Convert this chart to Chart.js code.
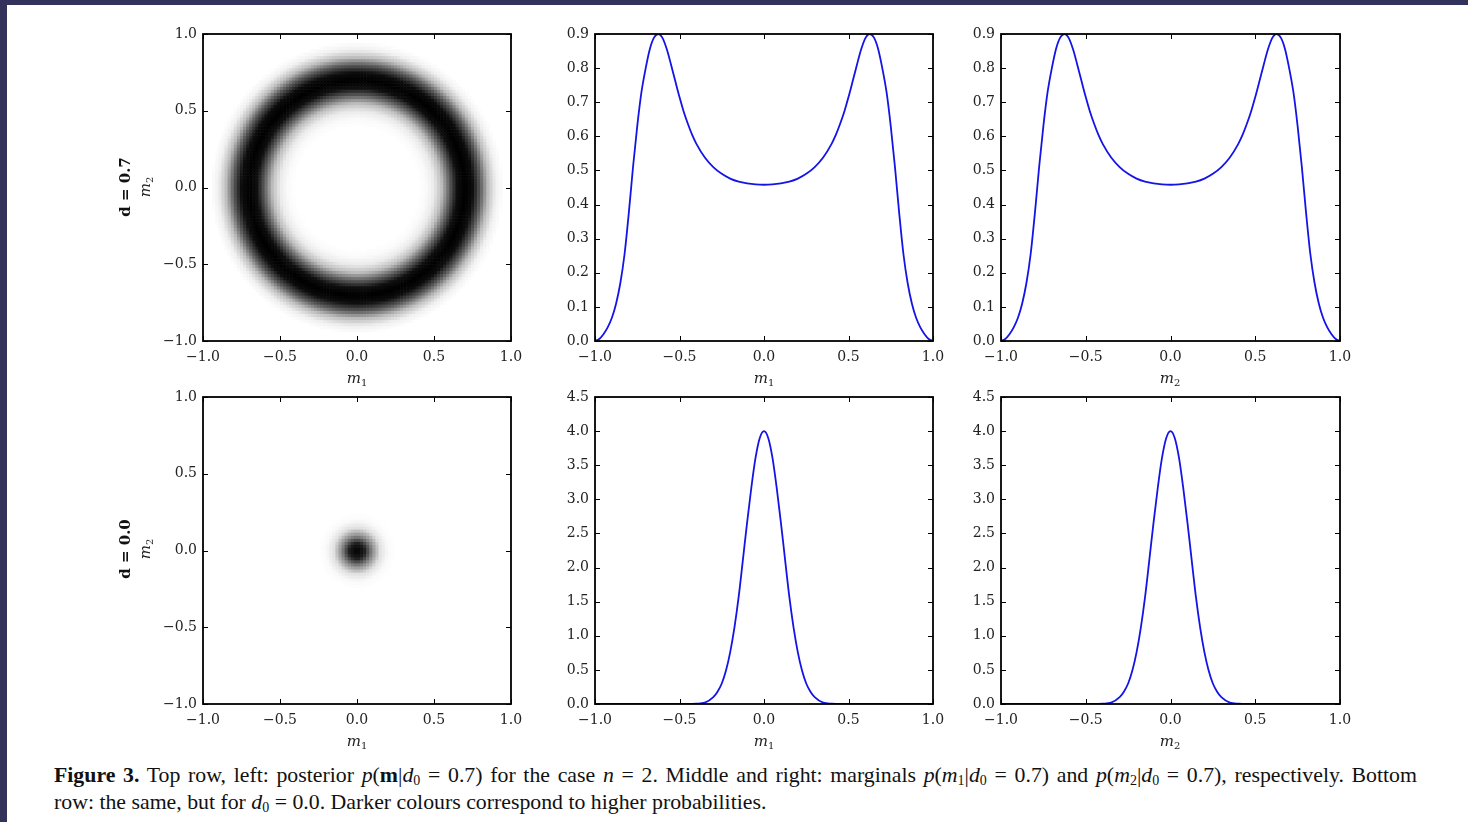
<!DOCTYPE html>
<html lang="en">
<head>
<meta charset="UTF-8">
<title>Posterior and marginals</title>
<script src="https://cdn.jsdelivr.net/npm/chart.js"></script>
<style>
    body { margin: 0; background: #fff; }
    #page {
        position: relative;
        width: 1468px;
        height: 822px;
        background: #fff;
        overflow: hidden;
    }
    .edge-top { position: absolute; left: 0; top: 0; width: 1468px; height: 5px; background: #33325a; }
    .edge-left { position: absolute; left: 0; top: 0; width: 7px; height: 822px; background: #33325a; }
    .panel { position: absolute; }
    .lbl {
        position: absolute;
        font-family: "DejaVu Serif", serif;
        font-size: 15px;
        color: #222;
        transform: translate(-50%, -50%);
        white-space: nowrap;
    }
    .lbl sub { font-size: 10px; font-style: normal; vertical-align: -3px; }
    .rot { transform: translate(-50%, -50%) rotate(-90deg); }
    .dlbl { font-weight: bold; color: #111; }
    .cap {
        position: absolute;
        left: 54px;
        font-family: "Liberation Serif", "Times New Roman", serif;
        font-size: 21.8px;
        line-height: 27px;
        color: #111;
        white-space: nowrap;
    }
    .cap sub { font-size: 14px; vertical-align: -3px; line-height: 0; }
    .justify { width: 1363px; text-align: justify; text-align-last: justify; white-space: normal; }
</style>
</head>
<body>
<div id="page">
    <div class="edge-top"></div>
    <div class="edge-left"></div>

    <div class="panel" id="w1"><canvas id="ringMap"></canvas></div>
    <div class="panel" id="w2"><canvas id="ringM1"></canvas></div>
    <div class="panel" id="w3"><canvas id="ringM2"></canvas></div>
    <div class="panel" id="w4"><canvas id="spotMap"></canvas></div>
    <div class="panel" id="w5"><canvas id="spotM1"></canvas></div>
    <div class="panel" id="w6"><canvas id="spotM2"></canvas></div>

    <!-- axis titles -->
    <div class="lbl" style="left:357px; top:378px"><i>m</i><sub>1</sub></div>
    <div class="lbl" style="left:764px; top:378px"><i>m</i><sub>1</sub></div>
    <div class="lbl" style="left:1170px; top:378px"><i>m</i><sub>2</sub></div>
    <div class="lbl" style="left:357px; top:741px"><i>m</i><sub>1</sub></div>
    <div class="lbl" style="left:764px; top:741px"><i>m</i><sub>1</sub></div>
    <div class="lbl" style="left:1170px; top:741px"><i>m</i><sub>2</sub></div>
    <div class="lbl rot" style="left:145px; top:187px"><i>m</i><sub>2</sub></div>
    <div class="lbl rot" style="left:145px; top:549px"><i>m</i><sub>2</sub></div>
    <div class="lbl rot dlbl" style="left:125px; top:187px">d = 0.7</div>
    <div class="lbl rot dlbl" style="left:125px; top:549px">d = 0.0</div>

    <!-- caption: first line justified, second line left -->
    <div class="cap justify" style="top:762px"><b>Figure 3.</b> Top row, left: posterior <i>p</i>(<b>m</b>|<i>d</i><sub>0</sub> = 0.7) for the case <i>n</i> = 2. Middle and right: marginals <i>p</i>(<i>m</i><sub>1</sub>|<i>d</i><sub>0</sub> = 0.7) and <i>p</i>(<i>m</i><sub>2</sub>|<i>d</i><sub>0</sub> = 0.7), respectively. Bottom</div>
    <div class="cap" style="top:789px">row: the same, but for <i>d</i><sub>0</sub> = 0.0. Darker colours correspond to higher probabilities.</div>
</div>

<script>
// ---- data ----
const mTicks = [-1.0, -0.5, 0.0, 0.5, 1.0];

// top row marginal (same shape for m1 and m2)
const ringM = [-1.000, -0.975, -0.950, -0.925, -0.900, -0.875, -0.850, -0.825, -0.800, -0.775, -0.750, -0.725, -0.700, -0.675, -0.650, -0.625,
    -0.600, -0.575, -0.550, -0.525, -0.500, -0.475, -0.450, -0.425, -0.400, -0.350, -0.300, -0.250, -0.200, -0.150, -0.100, -0.050,
    0.000, 0.050, 0.100, 0.150, 0.200, 0.250, 0.300, 0.350, 0.400, 0.425, 0.450, 0.475, 0.500, 0.525, 0.550, 0.575, 0.600,
    0.625, 0.650, 0.675, 0.700, 0.725, 0.750, 0.775, 0.800, 0.825, 0.850, 0.875, 0.900, 0.925, 0.950, 0.975, 1.000];
const ringMarginal = [0.000, 0.006, 0.020, 0.040, 0.068, 0.110, 0.170, 0.255, 0.375, 0.510, 0.630, 0.730, 0.800, 0.857, 0.890, 0.900,
    0.888, 0.855, 0.810, 0.762, 0.715, 0.672, 0.636, 0.604, 0.578, 0.538, 0.510, 0.490, 0.476, 0.467, 0.462, 0.459,
    0.458, 0.459, 0.462, 0.467, 0.476, 0.490, 0.510, 0.538, 0.578, 0.604, 0.636, 0.672, 0.715, 0.762, 0.810, 0.855, 0.888,
    0.900, 0.890, 0.857, 0.800, 0.730, 0.630, 0.510, 0.375, 0.255, 0.170, 0.110, 0.068, 0.040, 0.020, 0.006, 0.000];

// bottom row marginal (same shape for m1 and m2)
const peakM = [-1.00, -0.45, -0.40, -0.35, -0.30, -0.275, -0.25, -0.225, -0.20, -0.175, -0.15, -0.125, -0.10, -0.075, -0.05, -0.025,
    0.00, 0.025, 0.05, 0.075, 0.10, 0.125, 0.15, 0.175, 0.20, 0.225, 0.25, 0.275, 0.30, 0.35, 0.40, 0.45, 1.00];
const peakMarginal = [0.00, 0.00, 0.005, 0.02, 0.10, 0.18, 0.30, 0.49, 0.76, 1.12, 1.57, 2.11, 2.66, 3.17, 3.61, 3.90,
    4.00, 3.90, 3.61, 3.17, 2.66, 2.11, 1.57, 1.12, 0.76, 0.49, 0.30, 0.18, 0.10, 0.02, 0.005, 0.00, 0.00];

// radial darkness profile of the 2D posteriors (0 = white, 1 = black)
const ringRadius = [0.00, 0.40, 0.45, 0.50, 0.55, 0.60, 0.65, 0.70, 0.75, 0.80, 0.85, 0.90, 0.95];
const ringDark = [0.00, 0.00, 0.02, 0.08, 0.26, 0.62, 0.94, 1.00, 0.95, 0.65, 0.26, 0.06, 0.00];
const spotRadius = [0.00, 0.05, 0.10, 0.15, 0.20, 0.25];
const spotDark = [1.00, 0.88, 0.45, 0.12, 0.02, 0.00];

// ---- layout ----
const PAD_L = 60, PAD_T = 15, PAD_R = 25, PAD_B = 30;
const areas = {
    w1: [203, 34, 308, 307], w2: [595, 34, 338, 307], w3: [1001, 34, 339, 307],
    w4: [203, 397, 308, 307], w5: [595, 397, 338, 307], w6: [1001, 397, 339, 307]
};
Object.entries(areas).forEach(([id, [l, t, w, h]]) => {
    const el = document.getElementById(id);
    el.style.left = (l - PAD_L) + 'px';
    el.style.top = (t - PAD_T) + 'px';
    el.style.width = (w + PAD_L + PAD_R) + 'px';
    el.style.height = (h + PAD_T + PAD_B) + 'px';
});

const tickFont = { family: 'DejaVu Serif', size: 14 };
const fmt = v => v.toFixed(1).replace('-', '\u2212');

// frame with inward ticks on all four sides
const frameTicks = {
    id: 'frameTicks',
    afterDraw(chart) {
        const { ctx, chartArea: a, scales: { x, y } } = chart;
        ctx.save();
        ctx.strokeStyle = '#000';
        ctx.lineWidth = 1;
        ctx.beginPath();
        x.ticks.forEach(t => {
            const px = Math.round(x.getPixelForValue(t.value)) + 0.5;
            ctx.moveTo(px, a.bottom); ctx.lineTo(px, a.bottom - 5);
            ctx.moveTo(px, a.top); ctx.lineTo(px, a.top + 5);
        });
        y.ticks.forEach(t => {
            const py = Math.round(y.getPixelForValue(t.value)) + 0.5;
            ctx.moveTo(a.left, py); ctx.lineTo(a.left + 5, py);
            ctx.moveTo(a.right, py); ctx.lineTo(a.right - 5, py);
        });
        ctx.stroke();
        ctx.lineWidth = 1.8;
        ctx.strokeRect(a.left, a.top, a.right - a.left, a.bottom - a.top);
        ctx.restore();
    }
};

function lookup(rs, ds, r) {
    if (r <= rs[0]) return ds[0];
    for (let i = 1; i < rs.length; i++) {
        if (r <= rs[i]) {
            const f = (r - rs[i - 1]) / (rs[i] - rs[i - 1]);
            return ds[i - 1] + f * (ds[i] - ds[i - 1]);
        }
    }
    return 0;
}

// grey density image drawn cell by cell through the chart's scales
function densityPlugin(rs, ds) {
    return {
        id: 'density',
        beforeDatasetsDraw(chart) {
            const { ctx, chartArea: a, scales: { x, y } } = chart;
            const n = 100, step = 2 / n;
            ctx.save();
            ctx.beginPath();
            ctx.rect(a.left, a.top, a.right - a.left, a.bottom - a.top);
            ctx.clip();
            for (let i = 0; i < n; i++) {
                for (let j = 0; j < n; j++) {
                    const cx = -1 + (i + 0.5) * step;
                    const cy = -1 + (j + 0.5) * step;
                    const d = lookup(rs, ds, Math.hypot(cx, cy));
                    if (d <= 0.003) continue;
                    const g = Math.round(255 * (1 - d));
                    ctx.fillStyle = `rgb(${g},${g},${g})`;
                    const x0 = x.getPixelForValue(cx - step / 2);
                    const x1 = x.getPixelForValue(cx + step / 2);
                    const y0 = y.getPixelForValue(cy - step / 2);
                    const y1 = y.getPixelForValue(cy + step / 2);
                    ctx.fillRect(x0, y1, x1 - x0 + 0.6, y0 - y1 + 0.6);
                }
            }
            ctx.restore();
        }
    };
}

function scalesFor(yMin, yMax, yStep) {
    return {
        x: {
            type: 'linear', min: -1, max: 1,
            afterBuildTicks: s => { s.ticks = mTicks.map(v => ({ value: v })); },
            ticks: { callback: fmt, font: tickFont, color: '#222', padding: 8, maxRotation: 0, autoSkip: false },
            grid: { display: false, drawTicks: false },
            border: { display: false },
            afterFit: s => { s.height = PAD_B; }
        },
        y: {
            type: 'linear', min: yMin, max: yMax,
            ticks: { stepSize: yStep, callback: fmt, font: tickFont, color: '#222', padding: 6, autoSkip: false },
            grid: { display: false, drawTicks: false },
            border: { display: false },
            afterFit: s => { s.width = PAD_L; }
        }
    };
}

const baseOptions = (yMin, yMax, yStep) => ({
    responsive: true,
    maintainAspectRatio: false,
    animation: false,
    layout: { padding: { left: 0, top: PAD_T, right: PAD_R, bottom: 0 } },
    plugins: { legend: { display: false }, tooltip: { enabled: false } },
    scales: scalesFor(yMin, yMax, yStep)
});

function mapChart(id, rs, ds) {
    new Chart(document.getElementById(id), {
        type: 'scatter',
        data: { datasets: [] },
        options: baseOptions(-1, 1, 0.5),
        plugins: [densityPlugin(rs, ds), frameTicks]
    });
}

function lineChart(id, xs, ys, yMax, yStep) {
    new Chart(document.getElementById(id), {
        type: 'line',
        data: {
            datasets: [{
                data: xs.map((v, i) => ({ x: v, y: ys[i] })),
                borderColor: '#1414e6',
                borderWidth: 1.8,
                pointRadius: 0,
                cubicInterpolationMode: 'monotone',
                fill: false
            }]
        },
        options: baseOptions(0, yMax, yStep),
        plugins: [frameTicks]
    });
}

mapChart('ringMap', ringRadius, ringDark);
lineChart('ringM1', ringM, ringMarginal, 0.9, 0.1);
lineChart('ringM2', ringM, ringMarginal, 0.9, 0.1);
mapChart('spotMap', spotRadius, spotDark);
lineChart('spotM1', peakM, peakMarginal, 4.5, 0.5);
lineChart('spotM2', peakM, peakMarginal, 4.5, 0.5);
</script>
</body>
</html>
